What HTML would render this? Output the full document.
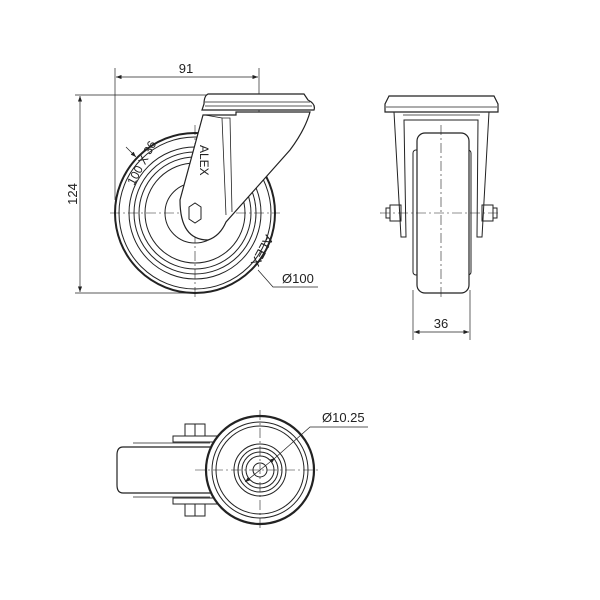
<!DOCTYPE html>
<html><head><meta charset="utf-8"><style>body{margin:0;background:#fff}svg{display:block}text{font-family:"Liberation Sans",sans-serif;fill:#222}</style></head><body>
<svg width="600" height="600" viewBox="0 0 600 600" fill="none" stroke="#222" stroke-width="1">
<defs><marker id="a" markerWidth="8" markerHeight="6" refX="8" refY="3" orient="auto-start-reverse"><path d="M0,0 L8,3 L0,6" fill="#222" stroke="none"/></marker></defs>
<line x1="115" y1="68" x2="115" y2="200" stroke-width="0.7"/>
<line x1="259" y1="68" x2="259" y2="160" stroke-width="0.7"/>
<line x1="116" y1="77" x2="258" y2="77" stroke-width="0.7" marker-start="url(#a)" marker-end="url(#a)"/>
<text x="186" y="73" font-size="13" text-anchor="middle" stroke="none">91</text>
<line x1="75" y1="95" x2="215" y2="95" stroke-width="0.7"/>
<line x1="75" y1="293" x2="200" y2="293" stroke-width="0.7"/>
<line x1="80" y1="96" x2="80" y2="292" stroke-width="0.7" marker-start="url(#a)" marker-end="url(#a)"/>
<text x="0" y="0" font-size="13" text-anchor="middle" stroke="none" transform="translate(77,194) rotate(-90)">124</text>
<circle cx="195" cy="213" r="80" stroke-width="2"/>
<circle cx="195" cy="213" r="76"/>
<circle cx="195" cy="213" r="66"/>
<circle cx="195" cy="213" r="61"/>
<circle cx="195" cy="213" r="56"/>
<circle cx="195" cy="213" r="50"/>
<circle cx="195" cy="213" r="30"/>
<line x1="110" y1="213" x2="280" y2="213" stroke-dasharray="10,3,2,3" stroke-width="0.6"/>
<line x1="195" y1="125" x2="195" y2="300" stroke-dasharray="10,3,2,3" stroke-width="0.6"/>
<path d="M203,115 L180,200 Q180,240 208,240 Q220,236 226,222 L290,150 Q305,130 310,112 L236,112 L236,115 Z" fill="#fff" stroke-width="1.2"/>
<path d="M205,115 L222,118 L226,215" stroke-width="0.8"/>
<path d="M222,118 L230,118 L232,212" stroke-width="0.8"/>
<polygon points="189,207 195,203 201,207 201,219 195,223 189,219" fill="#fff"/>
<path d="M208,94 Q204,96 204,104 L202,110 L314,110 Q316,104 308,100 L304,94 Z" fill="#fff" stroke-width="1.2"/>
<line x1="205" y1="102" x2="310" y2="102" stroke-width="0.7"/>
<line x1="205" y1="106" x2="312" y2="106" stroke-width="0.7"/>
<text x="0" y="0" font-size="12" stroke="none" transform="translate(134,186) rotate(-62)">100 X 36</text>
<text x="0" y="0" font-size="12" stroke="none" transform="translate(200,145) rotate(90)">ALEX</text>
<text x="0" y="0" font-size="13" stroke="none" transform="translate(266,234) rotate(118)">ALEX</text>
<line x1="126" y1="147" x2="136" y2="157" stroke-width="0.7" marker-end="url(#a)"/>
<polyline points="258,270 273,287 318,287" stroke-width="0.7"/>
<text x="282" y="283" font-size="13" stroke="none">Ø100</text>
<path d="M389,96 L385,104 L385,112 L498,112 L498,104 L494,96 Z" fill="#fff" stroke-width="1.2"/>
<line x1="386" y1="107" x2="497" y2="107" stroke-width="0.7"/>
<path d="M394,112 L401,237 L406,237 L404,120 L478,120 L477,237 L482,237 L489,112" stroke-width="1"/>
<path d="M403,115 L480,115" stroke-width="0.7"/>
<rect x="413" y="150" width="6" height="125" rx="3"/>
<rect x="465" y="150" width="6" height="125" rx="3"/>
<rect x="417" y="133" width="52" height="160" rx="8" fill="#fff" stroke-width="1.2"/>
<rect x="390" y="205" width="11" height="16"/><rect x="386" y="208" width="4" height="10"/>
<rect x="482" y="205" width="11" height="16"/><rect x="493" y="208" width="4" height="10"/>
<line x1="380" y1="213" x2="500" y2="213" stroke-dasharray="10,3,2,3" stroke-width="0.6"/>
<line x1="441" y1="125" x2="441" y2="300" stroke-dasharray="10,3,2,3" stroke-width="0.6"/>
<line x1="413" y1="290" x2="413" y2="340" stroke-width="0.7"/>
<line x1="470" y1="290" x2="470" y2="340" stroke-width="0.7"/>
<line x1="414" y1="332" x2="469" y2="332" stroke-width="0.7" marker-start="url(#a)" marker-end="url(#a)"/>
<text x="441" y="328" font-size="13" text-anchor="middle" stroke="none">36</text>
<path d="M212,447 L123,447 Q117,447 117,455 L117,485 Q117,493 123,493 L212,493" fill="#fff" stroke-width="1.2"/>
<path d="M133,443 L210,443 M133,497 L210,497" stroke-width="0.8"/>
<rect x="173" y="436" width="50" height="6"/><rect x="173" y="498" width="50" height="6"/>
<rect x="185" y="424" width="20" height="12"/><rect x="185" y="504" width="20" height="12"/>
<line x1="195" y1="424" x2="195" y2="436"/><line x1="195" y1="504" x2="195" y2="516"/>
<circle cx="260" cy="470" r="54" fill="#fff" stroke-width="2.2"/>
<circle cx="260" cy="470" r="48"/>
<circle cx="260" cy="470" r="44"/>
<circle cx="260" cy="470" r="26"/>
<circle cx="260" cy="470" r="22"/>
<circle cx="260" cy="470" r="18"/>
<circle cx="260" cy="470" r="14"/>
<circle cx="260" cy="470" r="7"/>
<line x1="195" y1="470" x2="320" y2="470" stroke-dasharray="10,3,2,3" stroke-width="0.6"/>
<line x1="260" y1="410" x2="260" y2="530" stroke-dasharray="10,3,2,3" stroke-width="0.6"/>
<line x1="245" y1="482" x2="275" y2="458" stroke-width="0.7" marker-start="url(#a)" marker-end="url(#a)"/>
<polyline points="275,458 310,427 368,427" stroke-width="0.7"/>
<text x="322" y="422" font-size="13" stroke="none">Ø10.25</text>
</svg>
</body></html>
